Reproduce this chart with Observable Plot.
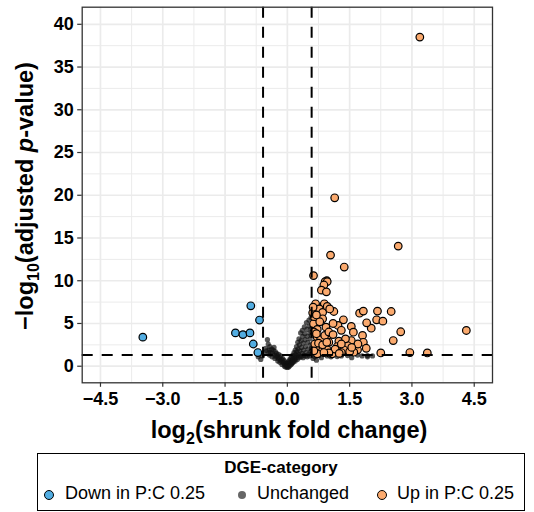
<!DOCTYPE html>
<html>
<head>
<meta charset="utf-8">
<script src="https://cdn.jsdelivr.net/npm/d3@7"></script>
<script src="https://cdn.jsdelivr.net/npm/@observablehq/plot@0.6"></script>
<style>
  html, body { margin: 0; padding: 0; background: #fff; }
  #wrap { position: relative; width: 534px; height: 512px; font-family: "Liberation Sans", Arial, sans-serif; }
  #legend { position: absolute; left: 37px; top: 453px; width: 488px; height: 58px; border: 1.5px solid #000; box-sizing: border-box; }
  #legend .title { position: absolute; left: 0; right: 0; top: 4px; text-align: center; font-weight: bold; font-size: 17px; }
  #legend .item { position: absolute; top: 29px; font-size: 18px; white-space: nowrap; }
  #legend .sw { position: absolute; top: 34px; border-radius: 50%; box-sizing: border-box; }
</style>
</head>
<body>
<div id="wrap">
  <div id="chart"></div>
  <div id="legend"></div>
</div>
<script>
// ---- data ----
const xTicks = [-4.5, -3.0, -1.5, 0.0, 1.5, 3.0, 4.5];
const xMinor = [-3.75, -2.25, -0.75, 0.75, 2.25, 3.75];
const yTicks = [0, 5, 10, 15, 20, 25, 30, 35, 40];
const yMinor = [2.5, 7.5, 12.5, 17.5, 22.5, 27.5, 32.5, 37.5];
const fcCut = [-0.585, 0.585];
const padjCut = [1.3];

const categories = ["Down in P:C 0.25", "Unchanged", "Up in P:C 0.25"];
const catColors = ["#52ade2", "#666666", "#fbaa6e"];

const down = [
  [-3.48, 3.4], [-1.25, 3.9], [-1.07, 3.7], [-0.90, 3.9], [-0.88, 7.07],
  [-0.82, 2.6], [-0.71, 1.6], [-0.67, 5.4]
];

const up = [
  [3.19, 38.5], [1.14, 19.7], [2.67, 14.05], [1.04, 13.0], [1.37, 11.6], [0.63, 10.6], [0.95, 10.0],
  [0.91, 9.9], [0.96, 9.9], [0.88, 9.5], [0.82, 8.9], [0.94, 8.7],
  [0.68, 7.3], [0.89, 7.3], [0.77, 6.7], [0.61, 6.25], [0.85, 6.3], [1.12, 6.4], [0.96, 7.0],
  [1.74, 6.2], [1.83, 6.45], [2.17, 6.45], [2.50, 6.4],
  [1.35, 5.43], [2.15, 5.43], [2.30, 5.27], [0.63, 4.96], [0.85, 5.55],
  [1.22, 4.77], [1.54, 4.65], [0.93, 4.57], [0.72, 4.3], [2.02, 4.45], [1.91, 5.08],
  [1.59, 3.98], [2.73, 4.03], [4.31, 4.18], [1.81, 3.6], [0.72, 3.4], [0.96, 3.32], [0.80, 3.1],
  [2.55, 3.0], [1.83, 2.8], [1.24, 2.93], [1.54, 3.0], [1.0, 2.8], [1.45, 2.42], [1.2, 2.3],
  [0.8, 2.2], [0.68, 2.2], [0.96, 1.92], [1.36, 1.92], [1.69, 1.92], [2.25, 1.55], [2.95, 1.6],
  [3.37, 1.55], [0.72, 1.45], [1.08, 1.45], [1.6, 1.64],
  [0.62, 6.9], [0.65, 5.8], [0.64, 4.0], [0.7, 3.8], [0.66, 2.6], [0.64, 1.8], [0.75, 2.7],
  [0.85, 2.5], [0.9, 3.6], [1.0, 4.0], [1.1, 3.7], [1.15, 2.0], [1.3, 1.6], [1.0, 1.55],
  [0.88, 1.6], [1.25, 1.5], [1.5, 1.7], [1.4, 3.2], [1.1, 5.0], [0.78, 5.2], [0.7, 6.0],
  [1.02, 6.7], [1.3, 4.2], [1.7, 2.6], [1.9, 2.1], [1.3, 2.6], [0.95, 2.8], [1.55, 2.2]
];

const unchanged = [
  [-0.70, 1.1], [-0.64, 0.8], [-0.60, 1.2], [-0.56, 1.6], [-0.52, 2.1], [-0.48, 3.1], [-0.46, 2.6],
  [-0.45, 1.6], [-0.44, 1.9], [-0.42, 2.3], [-0.40, 1.6], [-0.38, 2.0], [-0.36, 1.5], [-0.34, 1.9],
  [-0.32, 2.2], [-0.31, 1.3], [-0.29, 1.7], [-0.27, 1.1], [-0.26, 1.5], [-0.24, 1.2], [-0.22, 0.9],
  [-0.21, 1.4], [-0.19, 1.0], [-0.17, 0.7], [-0.16, 1.2], [-0.14, 0.8], [-0.12, 0.5], [-0.11, 0.9],
  [-0.09, 0.4], [-0.08, 0.7], [-0.06, 0.2], [-0.05, 0.5], [-0.03, 0.1], [-0.02, 0.35], [0.0, 0.0],
  [0.0, -0.15], [0.01, 0.3], [0.02, 0.05], [0.03, 0.5], [0.04, 0.2], [0.05, 0.7], [0.06, 0.35],
  [0.07, 0.9], [0.08, 0.5], [0.09, 0.2], [0.10, 1.1], [0.11, 0.7], [0.12, 0.4], [0.13, 1.3],
  [0.14, 0.9], [0.15, 0.6], [0.16, 1.6], [0.17, 1.1], [0.18, 0.8], [0.19, 1.9], [0.20, 1.4],
  [0.21, 1.0], [0.22, 2.3], [0.23, 1.7], [0.24, 1.2], [0.25, 2.8], [0.26, 2.0], [0.27, 1.4],
  [0.28, 3.2], [0.29, 2.5], [0.30, 1.8], [0.31, 1.2], [0.32, 3.9], [0.33, 3.0], [0.34, 2.2],
  [0.35, 1.5], [0.36, 4.2], [0.37, 3.5], [0.38, 2.7], [0.39, 1.9], [0.40, 1.3], [0.41, 4.6],
  [0.42, 3.8], [0.43, 3.1], [0.44, 2.3], [0.45, 1.6], [0.46, 5.1], [0.47, 4.3], [0.48, 3.5],
  [0.49, 2.8], [0.50, 2.0], [0.51, 1.4], [0.52, 5.4], [0.53, 4.7], [0.54, 3.9], [0.55, 3.2],
  [0.56, 2.5], [0.56, 1.7], [0.57, 5.7], [0.57, 4.4], [0.58, 3.6], [0.58, 2.1],
  [-0.50, 1.8], [-0.43, 1.3], [-0.37, 1.1], [-0.30, 0.9], [-0.23, 0.6], [-0.18, 0.45], [-0.13, 0.2],
  [-0.07, 0.0], [-0.04, -0.1], [0.03, -0.1], [0.06, 0.05], [0.10, 0.3], [0.14, 0.45], [0.19, 0.6],
  [0.24, 0.8], [0.28, 1.0], [0.33, 1.1], [0.38, 1.0], [0.43, 1.2], [0.48, 1.1], [0.53, 1.2],
  [0.62, 0.9], [0.66, 1.1], [0.70, 0.7], [0.76, 1.25], [0.82, 1.0], [0.96, 1.2], [1.05, 1.1],
  [1.20, 1.13], [1.30, 1.2], [1.45, 1.25], [1.55, 1.0], [1.69, 1.3], [1.80, 1.2], [1.93, 1.25],
  [1.93, 1.1], [2.05, 1.2]
];

// ---- chart ----
const W = 534, H = 446;
const fmt = d => (d < 0 ? "\u2212" : "") + Math.abs(d).toFixed(1);

const plot = Plot.plot({
  width: W, height: H,
  marginLeft: 81.7, marginRight: 42, marginTop: 6.7, marginBottom: H - 382.3,
  style: { fontFamily: "'Liberation Sans', Arial, sans-serif", fontSize: "18px", fontWeight: "bold", color: "#000", background: "#fff" },
  x: { domain: [-4.94, 4.94], label: null },
  y: { domain: [-1.94, 42.0], label: null },
  marks: [
    Plot.ruleX(xMinor, { stroke: "#ebebeb", strokeWidth: 1 }),
    Plot.ruleY(yMinor, { stroke: "#ebebeb", strokeWidth: 1 }),
    Plot.ruleX(xTicks, { stroke: "#ebebeb", strokeWidth: 1.7 }),
    Plot.ruleY(yTicks, { stroke: "#ebebeb", strokeWidth: 1.7 }),
    Plot.dot(unchanged, { x: d => d[0], y: d => d[1], r: 2.6, fill: "#111", fillOpacity: 0.7, stroke: "none" }),
    Plot.dot(up, { x: d => d[0], y: d => d[1], r: 3.8, fill: catColors[2], stroke: "#000", strokeWidth: 1.2 }),
    Plot.dot(down, { x: d => d[0], y: d => d[1], r: 3.8, fill: catColors[0], stroke: "#000", strokeWidth: 1.2 }),
    Plot.ruleX(fcCut, { stroke: "#000", strokeWidth: 2, strokeDasharray: "11,9" }),
    Plot.ruleY(padjCut, { stroke: "#000", strokeWidth: 2, strokeDasharray: "11,9" }),
    Plot.frame({ stroke: "#333", strokeWidth: 1.3 }),
    Plot.axisX({ ticks: xTicks, tickFormat: fmt, tickSize: 4.5, tickPadding: 5, stroke: "#333", strokeWidth: 1.2, label: null }),
    Plot.axisY({ ticks: yTicks, tickSize: 4.5, tickPadding: 4, stroke: "#333", strokeWidth: 1.2, label: null })
  ]
});
document.getElementById("chart").appendChild(plot);

// axis titles with subscripts / italics (real text)
const svg = d3.select(plot);
const xl = svg.append("text")
  .attr("x", 289).attr("y", 438)
  .attr("text-anchor", "middle")
  .style("font-size", "23.5px").style("font-weight", "bold").attr("fill", "#000");
xl.append("tspan").text("log");
xl.append("tspan").attr("dy", 6).style("font-size", "16px").text("2");
xl.append("tspan").attr("dy", -6).text("(shrunk fold change)");

const yl = svg.append("text")
  .attr("transform", "translate(33,196) rotate(-90)")
  .attr("text-anchor", "middle")
  .style("font-size", "23.5px").style("font-weight", "bold").attr("fill", "#000");
yl.append("tspan").text("\u2212log");
yl.append("tspan").attr("dy", 6).style("font-size", "16px").text("10");
yl.append("tspan").attr("dy", -6).text("(adjusted ");
yl.append("tspan").style("font-style", "italic").text("p");
yl.append("tspan").text("-value)");

// ---- legend ----
const lg = d3.select("#legend");
lg.append("div").attr("class", "title").text("DGE-category");
const itemX = [27, 219, 359];       // text left (relative to legend box)
const swX = [10.6, 204, 343.6];     // swatch centre
categories.forEach((c, i) => {
  const r = i === 1 ? 4.2 : 5;
  lg.append("div").attr("class", "sw")
    .style("left", (swX[i] - r) + "px").style("top", (41 - r) + "px")
    .style("width", 2 * r + "px").style("height", 2 * r + "px")
    .style("background", catColors[i])
    .style("border", i === 1 ? "none" : "1.3px solid #000");
  lg.append("div").attr("class", "item").style("left", itemX[i] + "px").text(c);
});
</script>
</body>
</html>
